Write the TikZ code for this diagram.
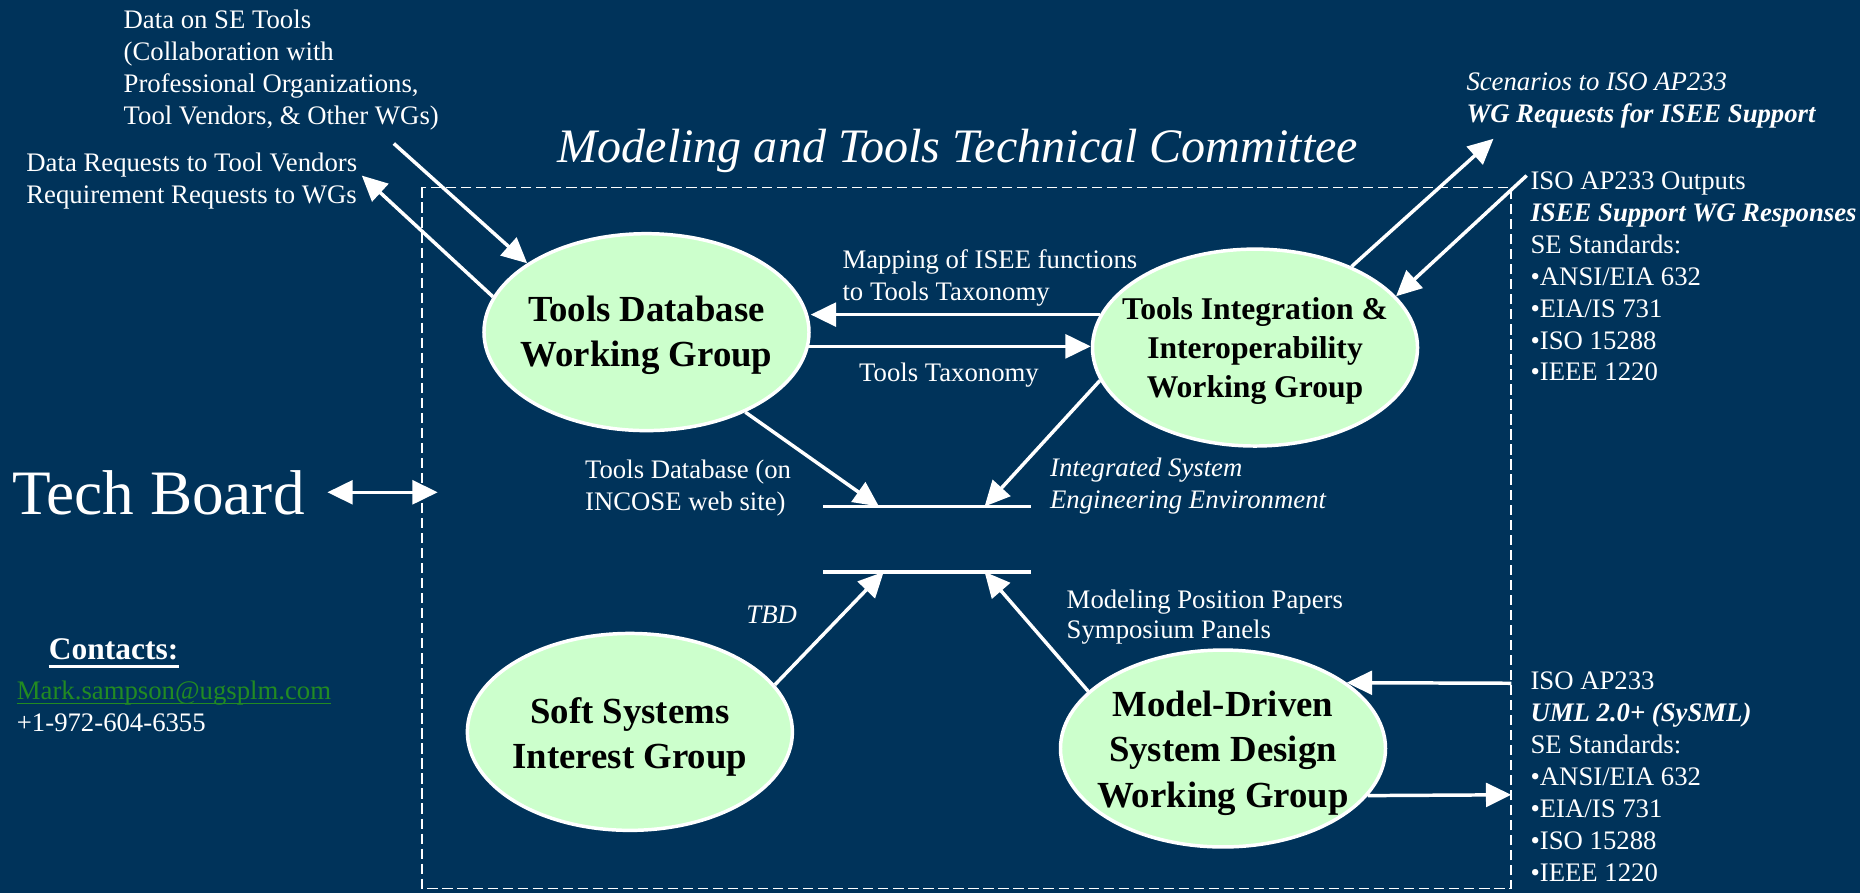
\documentclass[tikz,border=0pt]{standalone}
\usepackage{fontspec}
\setmainfont{Liberation Serif}
\usetikzlibrary{arrows.meta,shapes.geometric}
\definecolor{navy}{RGB}{0,51,90}
\definecolor{lgreen}{RGB}{204,255,204}
\definecolor{mailgreen}{RGB}{34,139,34}
\begin{document}
\begin{tikzpicture}[x=0.75pt,y=-0.75pt,
  body/.style={text=white, font=\fontsize{16.9}{20.2}\selectfont, align=left, inner sep=0pt, anchor=west},
  grp/.style={ellipse, draw=white, line width=2.2pt, fill=lgreen, minimum width=205.5pt, minimum height=124.5pt, inner sep=0pt},
  gtext/.style={text=black, font=\bfseries\fontsize{23.25}{28.5}\selectfont, align=center, inner sep=0pt},
  arr/.style={draw=white, line width=2.2pt, -{Triangle[length=16pt,width=15pt]}},
  arrboth/.style={draw=white, line width=2.2pt, {Triangle[length=16pt,width=15pt]}-{Triangle[length=16pt,width=15pt]}},
  bar/.style={draw=white, line width=2.2pt},
  dbox/.style={draw=white, line width=1.1pt, dash pattern=on 6.5pt off 3pt}
]
\fill[navy] (0,0) rectangle (1568,753);
\useasboundingbox (0,0) rectangle (1568,753);

% committee frame
\draw[dbox] (356,158) rectangle (1274,749);
\node[text=white, font=\itshape\fontsize{30.4}{36}\selectfont, inner sep=0pt, anchor=base] (title) at (807.5,137) {Modeling and Tools Technical Committee};

% groups
\node[grp] (db) at (545,280) {};
\node[gtext] (dbt) at (545,283) {Tools Database\\Working Group};
\node[grp] (ti) at (1058,293) {};
\node[gtext, font=\bfseries\fontsize{20}{24.75}\selectfont] (tit) at (1058,296) {Tools Integration \&\\Interoperability\\Working Group};
\node[grp] (ss) at (531,617) {};
\node[gtext] (sst) at (531,621) {Soft Systems\\Interest Group};
\node[grp] (md) at (1031,631) {};
\node[gtext] (mdt) at (1031,635) {Model-Driven\\System Design\\Working Group};

% outside texts
\node[body] (setools) at (104,59) {Data on SE Tools\\(Collaboration with\\Professional Organizations,\\Tool Vendors, \& Other WGs)};
\node[body] (datareq) at (22,153) {Data Requests to Tool Vendors\\Requirement Requests to WGs};
\node[body] (scen) at (1236,85) {\itshape Scenarios to ISO AP233\\\bfseries\itshape WG Requests for ISEE Support};
\node[body] (isoout) at (1290,233) {ISO AP233 Outputs\\\bfseries\itshape ISEE Support WG Responses\\SE Standards:\\•ANSI/EIA 632\\•EIA/IS 731\\•ISO 15288\\•IEEE 1220};
\node[body] (isobot) at (1290,655) {ISO AP233\\\bfseries\itshape UML 2.0+ (SySML)\\SE Standards:\\•ANSI/EIA 632\\•EIA/IS 731\\•ISO 15288\\•IEEE 1220};

% inner labels
\node[body] (mapping) at (710,234.5) {Mapping of ISEE functions\\to Tools Taxonomy};
\node[body] (taxo) at (724,316) {Tools Taxonomy};
\node[body] (tdbweb) at (493,411.5) {Tools Database (on\\INCOSE web site)};
\node[body, font=\itshape\fontsize{16.9}{20.2}\selectfont] (isee) at (885,410) {Integrated System\\Engineering Environment};
\node[body, font=\itshape\fontsize{16.9}{20.2}\selectfont] (tbd) at (629,518) {TBD};
\node[body, font=\fontsize{16.9}{18.8}\selectfont] (modpap) at (899,520.5) {Modeling Position Papers\\Symposium Panels};

% left side
\node[text=white, font=\fontsize{40}{48}\selectfont, inner sep=0pt, anchor=base west] (tech) at (10,434) {Tech Board};
\node[text=white, font=\bfseries\fontsize{19.9}{24}\selectfont, inner sep=0pt, anchor=base west] (ct) at (41,556) {Contacts:};
\draw[white, line width=1.5pt] ([yshift=-4.5pt]ct.base west) -- ([yshift=-4.5pt]ct.base east);
\node[text=mailgreen, font=\fontsize{16.9}{20.2}\selectfont, inner sep=0pt, anchor=base west] (mail) at (14,590) {Mark.sampson@ugsplm.com};
\draw[mailgreen, line width=0.8pt] ([yshift=-2.3pt]mail.base west) -- ([yshift=-2.3pt]mail.base east);
\node[text=white, font=\fontsize{16.9}{20.2}\selectfont, inner sep=0pt, anchor=base west] (phone) at (14,617) {+1-972-604-6355};

% coordinates
\coordinate (cSE) at (332,121);
\coordinate (cReq) at (305,148);
\coordinate (cScen) at (1259,117);
\coordinate (cOut) at (1287,148);
\coordinate (cIn) at (1274,576);
\coordinate (cStd) at (1274,670);
\coordinate (b1L) at (694,427);
\coordinate (b1R) at (869,427);
\coordinate (b1a) at (741,427);
\coordinate (b1b) at (830,427);
\coordinate (b2L) at (694,482);
\coordinate (b2R) at (869,482);
\coordinate (b2a) at (745,482);
\coordinate (b2b) at (830,482);
\coordinate (tbL) at (276,415);
\coordinate (tbR) at (369,415);

% bars (data stores)
\draw[bar] (b1L) -- (b1R);
\draw[bar] (b2L) -- (b2R);

% connectors
\draw[arr] (cSE) -- (db.150);
\draw[arr] (db.167) -- (cReq);
\draw[arr] (ti.168) -- (ti.168 -| db.east);
\draw[arr] (db.-5) -- (db.-5 -| ti.west);
\draw[arr] (db.-39) -- (b1a);
\draw[arr] (ti.192) -- (b1b);
\draw[arr] (ti.40) -- (cScen);
\draw[arr] (cOut) -- (ti.20);
\draw[arr] (ss.18) -- (b2a);
\draw[arr] (md.157) -- (b2b);
\draw[arr] (cIn) -- (md.28.6);
\draw[arr] (md.-18) -- (cStd);
\draw[arrboth] (tbL) -- (tbR);
\end{tikzpicture}
\end{document}
